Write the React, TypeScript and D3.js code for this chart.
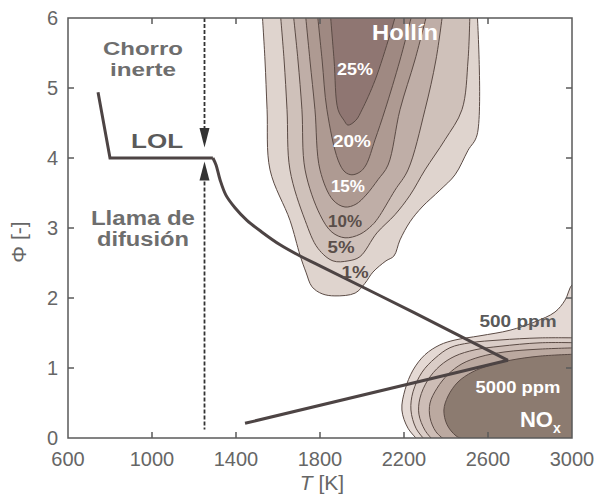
import React, { useEffect, useRef } from 'react';
import * as d3 from 'd3';

const T_TICKS = [600, 1000, 1400, 1800, 2200, 2600, 3000];
const PHI_TICKS = [0, 1, 2, 3, 4, 5, 6];

// soot (Hollín) iso-lines, outer to inner, points as [T, phi]
const SOOT_LEVELS = ['1%', '5%', '10%', '15%', '20%', '25%'];
const SOOT_1 = [[1524, 6.11], [1538, 5.4], [1548, 4.69], [1562, 3.83], [1657, 3.11], [1705, 2.61], [1733, 2.37], [1762, 2.16], [1810, 2.06], [1871, 2.03], [1967, 2.07], [2014, 2.21], [2052, 2.37], [2114, 2.53], [2152, 2.6], [2181, 2.83], [2229, 3.09], [2286, 3.3], [2371, 3.54], [2443, 3.76], [2505, 4.11], [2548, 4.33], [2548, 6.11]];
const SOOT_5 = [[1610, 6.11], [1629, 5.4], [1643, 4.69], [1657, 3.83], [1729, 3.11], [1790, 2.71], [1862, 2.53], [1933, 2.53], [1990, 2.59], [2071, 2.93], [2157, 3.19], [2229, 3.47], [2300, 3.83], [2395, 4.26], [2476, 4.69], [2505, 5.4], [2514, 6.11]];
const SOOT_10 = [[1671, 6.11], [1695, 5.4], [1714, 4.69], [1729, 3.83], [1800, 3.19], [1857, 2.94], [1919, 2.86], [1990, 2.91], [2048, 3.04], [2076, 3.14], [2157, 3.54], [2219, 3.83], [2300, 4.69], [2352, 5.4], [2386, 6.11]];
const SOOT_15 = [[1729, 6.11], [1752, 5.4], [1776, 4.69], [1800, 3.83], [1862, 3.4], [1919, 3.3], [1971, 3.34], [2019, 3.47], [2076, 3.69], [2124, 3.9], [2181, 4.69], [2252, 5.4], [2314, 6.11]];
const SOOT_20 = [[1786, 6.11], [1810, 5.4], [1833, 4.69], [1886, 3.97], [1919, 3.8], [1952, 3.76], [1990, 3.8], [2019, 3.9], [2062, 4.26], [2110, 4.69], [2181, 5.4], [2243, 6.11]];
const SOOT_25 = [[1848, 6.11], [1867, 5.4], [1886, 4.69], [1914, 4.54], [1933, 4.47], [1971, 4.54], [2000, 4.69], [2062, 5.11], [2133, 5.76], [2167, 6.11]];
const SOOT_COLORS = ['#dfd4ce', '#cfc1ba', '#bfaea7', '#ae9a92', '#9f8982', '#8f7672'];

// NOx iso-lines, outer (500 ppm) to inner (5000 ppm)
const NOX_1 = [[3038, 2.26], [3000, 2.19], [2967, 1.97], [2919, 1.8], [2824, 1.66], [2705, 1.54], [2562, 1.46], [2443, 1.4], [2371, 1.33], [2300, 1.19], [2243, 0.97], [2205, 0.69], [2190, 0.4], [2219, 0.14], [2267, -0.03], [3038, -0.03]];
const NOX_2 = [[3038, 1.43], [2848, 1.43], [2657, 1.4], [2514, 1.36], [2419, 1.29], [2348, 1.14], [2286, 0.94], [2243, 0.66], [2233, 0.4], [2257, 0.14], [2300, -0.03], [3038, -0.03]];
const NOX_3 = [[3038, 1.36], [2848, 1.36], [2657, 1.31], [2538, 1.26], [2443, 1.17], [2371, 1.03], [2314, 0.83], [2276, 0.57], [2271, 0.34], [2300, 0.11], [2338, -0.03], [3038, -0.03]];
const NOX_4 = [[3038, 1.29], [2848, 1.27], [2681, 1.23], [2562, 1.16], [2476, 1.06], [2410, 0.91], [2357, 0.71], [2324, 0.5], [2324, 0.29], [2352, 0.09], [2395, -0.03], [3038, -0.03]];
const NOX_5 = [[3038, 1.2], [2848, 1.17], [2705, 1.11], [2610, 1.04], [2524, 0.94], [2457, 0.8], [2410, 0.6], [2390, 0.4], [2405, 0.19], [2448, 0.03], [2490, -0.03], [3038, -0.03]];
const NOX_COLORS = ['#e4d9d4', '#dacdc7', '#cdbdb6', '#bba9a0', '#8c7b70'];

// LOL path: inert jet branch + diffusion flame branch
const LOL_STEP = [[743, 4.94], [800, 4.0], [1290, 4.0]];
const LOL_FALL = [[1290, 4.0], [1305, 3.9], [1324, 3.69], [1352, 3.47], [1395, 3.29], [1452, 3.11], [1524, 2.94], [1610, 2.76], [1705, 2.6], [1800, 2.46], [2248, 1.79], [2695, 1.11]];
const LOL_RISE = [[1443, 0.21], [2695, 1.11]];
const JET_T = 1250;

const LABELS = [
  { text: 'Chorro', T: 957, phi: 5.47, fill: '#6e6e6e', size: 19, len: 80 },
  { text: 'inerte', T: 957, phi: 5.17, fill: '#6e6e6e', size: 19, len: 66 },
  { text: 'LOL', T: 1024, phi: 4.14, fill: '#5a5a5a', size: 20, len: 52 },
  { text: 'Llama de', T: 957, phi: 3.04, fill: '#6e6e6e', size: 20, len: 104 },
  { text: 'difusión', T: 957, phi: 2.74, fill: '#6e6e6e', size: 20, len: 92 },
  { text: 'Hollín', T: 2205, phi: 5.69, fill: '#ffffff', size: 22, len: 66 },
  { text: '25%', T: 1967, phi: 5.19, fill: '#ffffff', size: 17, len: 36 },
  { text: '20%', T: 1952, phi: 4.16, fill: '#ffffff', size: 17, len: 38 },
  { text: '15%', T: 1933, phi: 3.51, fill: '#ffffff', size: 17, len: 34 },
  { text: '10%', T: 1919, phi: 3.01, fill: '#5a4e4a', size: 17, len: 34 },
  { text: '5%', T: 1900, phi: 2.64, fill: '#5a4e4a', size: 17, len: 27 },
  { text: '1%', T: 1967, phi: 2.29, fill: '#5a4e4a', size: 17, len: 27 },
  { text: '500 ppm', T: 2743, phi: 1.59, fill: '#5a5a5a', size: 17, len: 77 },
  { text: '5000 ppm', T: 2743, phi: 0.64, fill: '#ffffff', size: 17, len: 85 },
];

const FONT = "'Liberation Sans', Arial, sans-serif";

const App = () => {
  const svgRef = useRef(null);

  useEffect(() => {
    const svg = d3.select(svgRef.current);
    svg.selectAll('*').remove();

    const x = d3.scaleLinear().domain([600, 3000]).range([68, 572]);
    const y = d3.scaleLinear().domain([0, 6]).range([438, 18]);

    svg.append('defs').append('clipPath').attr('id', 'plot')
      .append('rect').attr('x', 68).attr('y', 18).attr('width', 504).attr('height', 420);

    const smooth = d3.line().x(d => x(d[0])).y(d => y(d[1])).curve(d3.curveCatmullRom.alpha(0.5));
    const straight = d3.line().x(d => x(d[0])).y(d => y(d[1]));

    const plot = svg.append('g').attr('clip-path', 'url(#plot)');

    // soot bands
    [SOOT_1, SOOT_5, SOOT_10, SOOT_15, SOOT_20, SOOT_25].forEach((pts, i) => {
      plot.append('path')
        .attr('d', smooth(pts) + 'Z')
        .attr('fill', SOOT_COLORS[i])
        .attr('stroke', '#5b4b45')
        .attr('stroke-width', 1);
    });

    // NOx bands
    [NOX_1, NOX_2, NOX_3, NOX_4, NOX_5].forEach((pts, i) => {
      const last = pts[pts.length - 1];
      plot.append('path')
        .attr('d', smooth(pts.slice(0, -1)) + 'L' + x(last[0]) + ',' + y(last[1]) + 'Z')
        .attr('fill', NOX_COLORS[i])
        .attr('stroke', '#5b4b45')
        .attr('stroke-width', 1);
    });

    // jet axis (dashed) with arrows
    const jx = x(JET_T);
    plot.append('line')
      .attr('x1', jx).attr('x2', jx).attr('y1', y(6)).attr('y2', y(4.35))
      .attr('stroke', '#333').attr('stroke-width', 1.8).attr('stroke-dasharray', '4,2');
    plot.append('line')
      .attr('x1', jx).attr('x2', jx).attr('y1', y(3.75)).attr('y2', y(0.12))
      .attr('stroke', '#333').attr('stroke-width', 1.8).attr('stroke-dasharray', '4,2');
    plot.append('path')
      .attr('d', `M${jx - 5},${y(4.43)}L${jx + 5},${y(4.43)}L${jx},${y(4.15)}Z`)
      .attr('fill', '#333');
    plot.append('path')
      .attr('d', `M${jx - 5},${y(3.68)}L${jx + 5},${y(3.68)}L${jx},${y(3.95)}Z`)
      .attr('fill', '#333');

    // LOL lines
    plot.append('path').attr('d', straight(LOL_STEP))
      .attr('fill', 'none').attr('stroke', '#4d4444').attr('stroke-width', 3).attr('stroke-linejoin', 'miter');
    plot.append('path').attr('d', d3.line().x(d => x(d[0])).y(d => y(d[1])).curve(d3.curveCatmullRom.alpha(0.5))(LOL_FALL))
      .attr('fill', 'none').attr('stroke', '#4d4444').attr('stroke-width', 3);
    plot.append('path').attr('d', straight(LOL_RISE))
      .attr('fill', 'none').attr('stroke', '#4d4444').attr('stroke-width', 3);

    // labels in plot
    LABELS.forEach(l => {
      svg.append('text')
        .attr('x', x(l.T)).attr('y', y(l.phi))
        .attr('text-anchor', 'middle')
        .attr('font-family', FONT).attr('font-weight', 'bold')
        .attr('font-size', l.size).attr('fill', l.fill)
        .attr('textLength', l.len).attr('lengthAdjust', 'spacingAndGlyphs')
        .text(l.text);
    });
    const nox = svg.append('text')
      .attr('x', x(2752)).attr('y', y(0.16))
      .attr('font-family', FONT).attr('font-weight', 'bold')
      .attr('font-size', 22).attr('fill', '#ffffff');
    nox.append('tspan').text('NO');
    nox.append('tspan').attr('font-size', 14).attr('dy', 6).text('x');

    // frame + ticks
    svg.append('rect').attr('x', 68).attr('y', 18).attr('width', 504).attr('height', 420)
      .attr('fill', 'none').attr('stroke', '#5a5a5a').attr('stroke-width', 1.5);

    const axisG = svg.append('g').attr('stroke', '#5a5a5a').attr('stroke-width', 1.5);
    T_TICKS.slice(1, -1).forEach(t => {
      axisG.append('line').attr('x1', x(t)).attr('x2', x(t)).attr('y1', 438).attr('y2', 432);
      axisG.append('line').attr('x1', x(t)).attr('x2', x(t)).attr('y1', 18).attr('y2', 24);
    });
    PHI_TICKS.slice(1, -1).forEach(p => {
      axisG.append('line').attr('x1', 68).attr('x2', 74).attr('y1', y(p)).attr('y2', y(p));
      axisG.append('line').attr('x1', 572).attr('x2', 566).attr('y1', y(p)).attr('y2', y(p));
    });

    T_TICKS.forEach(t => {
      svg.append('text')
        .attr('x', x(t)).attr('y', 466)
        .attr('text-anchor', 'middle')
        .attr('font-family', FONT).attr('font-size', 20).attr('fill', '#666')
        .text(t);
    });
    PHI_TICKS.forEach(p => {
      svg.append('text')
        .attr('x', 58).attr('y', y(p) + 7)
        .attr('text-anchor', 'end')
        .attr('font-family', FONT).attr('font-size', 20).attr('fill', '#666')
        .text(p);
    });

    const xt = svg.append('text')
      .attr('x', 322).attr('y', 490)
      .attr('text-anchor', 'middle')
      .attr('font-family', FONT).attr('font-size', 21).attr('fill', '#666');
    xt.append('tspan').attr('font-style', 'italic').text('T');
    xt.append('tspan').text(' [K]');

    svg.append('text')
      .attr('transform', 'translate(26,242) rotate(-90)')
      .attr('text-anchor', 'middle')
      .attr('font-family', FONT).attr('font-size', 21).attr('fill', '#666')
      .text('Φ [-]');
  }, []);

  return (
    <svg ref={svgRef} width={594} height={500}
      style={{ position: 'absolute', left: 0, top: 0, background: '#fff' }} />
  );
};

export default App;
